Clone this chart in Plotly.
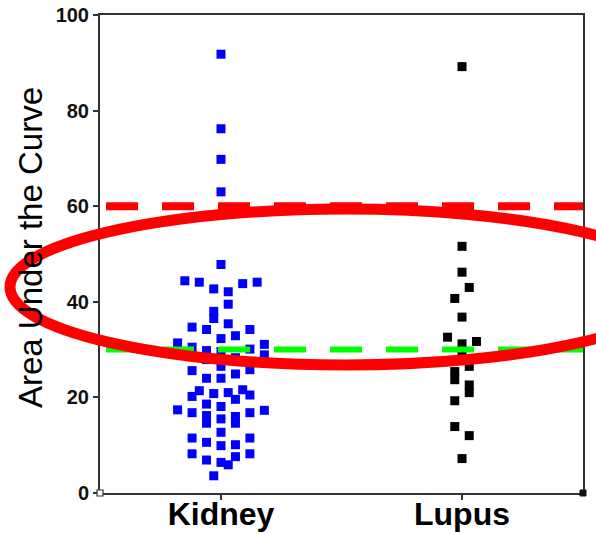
import plotly.graph_objects as go

# ---- data ----
categories = ["Kidney", "Lupus"]

kidney_values = [91.8, 76.2, 69.8, 63.0, 47.8,
                 44.4, 44.1, 42.7, 42.1, 43.8, 44.1,
                 39.5, 38.0, 36.5, 34.7, 34.2, 35.4, 34.2, 32.3, 32.9,
                 31.4, 30.5, 29.8, 29.6, 30.1, 31.1, 28.9, 28.3, 27.9,
                 26.5, 25.8, 25.6, 24.0, 24.0, 24.9,
                 21.4, 20.2, 20.8, 21.0, 21.6, 19.6, 20.5,
                 18.6, 18.1, 17.4, 16.8, 16.2, 14.6, 15.5, 16.0, 14.6, 16.8, 17.3,
                 12.7, 11.5, 10.6, 9.9, 10.1, 11.5,
                 8.2, 6.9, 6.4, 5.9, 7.6, 8.2, 3.6]
# column slot of each point within the Kidney strip (scatter-dot layout)
kidney_slots = [0, 0, 0, 0, 0,
                -5, -3, -1, 1, 3, 5,
                1, -1, -1, -4, -2, 1, 4, 0, 2,
                -6, -4, -2, 0, 4, 6, 6, 2, -2,
                0, 4, -4, -2, 0, 2,
                -3, -4, -1, 1, 3, 2, 4,
                -2, 0, -6, -4, -2, -2, 0, 2, 2, 4, 6,
                0, -4, -2, 0, 2, 4,
                -4, -2, 0, 1, 2, 4, -1]

lupus_values = [89.2, 51.6, 46.2, 43.0, 40.7, 36.8, 32.6, 31.7, 31.2, 29.8,
                26.5, 25.4, 23.7, 22.6, 21.0, 19.3, 13.9, 12.0, 7.2]
lupus_slots = [0, 0, 0, 1, -1, 0, -2, 2, 0, 0,
               1, -1, -1, 1, 1, -1, -1, 1, 0]

upper_threshold = 60
lower_threshold = 30

y_ticks = [0, 20, 40, 60, 80, 100]
y_title = "Area Under the Curve"

# ---- layout constants ----
SLOT = 0.03  # width of one dot column, in category units
W, H = 596, 534
ML, MR, MT, MB = 100, 13, 15, 41
PW = W - ML - MR
PH = H - MT - MB


def px_x(p):
    return (p - ML) / PW


def px_y(p):
    return (H - MB - p) / PH


fig = go.Figure()
fig.add_trace(go.Scatter(
    x=[0 + s * SLOT for s in kidney_slots], y=kidney_values,
    mode="markers", marker=dict(symbol="square", size=9, color="#0000FF"),
    showlegend=False, cliponaxis=False))
fig.add_trace(go.Scatter(
    x=[1 + s * SLOT for s in lupus_slots], y=lupus_values,
    mode="markers", marker=dict(symbol="square", size=9, color="#000000"),
    showlegend=False, cliponaxis=False))

axis_col = "#333333"
fig.update_xaxes(
    range=[-0.502, 1.502], tickvals=[0, 1], ticktext=categories,
    showline=True, linecolor=axis_col, linewidth=2, mirror=True,
    ticks="outside", ticklen=5, tickcolor=axis_col, tickwidth=2,
    ticklabelstandoff=-13,
    tickfont=dict(family="Liberation Sans, Arial", size=32, color="#000000", weight="bold"),
    showgrid=False, zeroline=False, automargin=False)
fig.update_yaxes(
    range=[0, 100], tickvals=y_ticks,
    showline=True, linecolor=axis_col, linewidth=2, mirror=True,
    ticks="outside", ticklen=5, tickcolor=axis_col, tickwidth=2,
    tickfont=dict(family="Liberation Sans, Arial", size=20, color="#111111", weight="bold"),
    showgrid=False, zeroline=False, automargin=False)

shapes = [
    dict(type="line", xref="paper", yref="y", x0=px_x(106), x1=1,
         y0=lower_threshold, y1=lower_threshold, layer="above",
         line=dict(color="#00FF00", width=6, dash="32px,24px")),
    dict(type="line", xref="paper", yref="y", x0=px_x(106), x1=1,
         y0=upper_threshold, y1=upper_threshold, layer="above",
         line=dict(color="#FF0000", width=8, dash="32px,24px")),
    dict(type="circle", xref="paper", yref="paper",
         x0=px_x(10), x1=px_x(680), y0=px_y(365), y1=px_y(209), layer="above",
         line=dict(color="#FF0000", width=11)),
    # small corner marks of the original axis frame
    dict(type="rect", xref="paper", yref="paper",
         x0=px_x(97), x1=px_x(103), y0=px_y(496), y1=px_y(490), layer="above",
         fillcolor="white", line=dict(color=axis_col, width=1.2)),
    dict(type="rect", xref="paper", yref="paper",
         x0=px_x(580), x1=px_x(586), y0=px_y(496), y1=px_y(490), layer="above",
         fillcolor="#111111", line=dict(color="#111111", width=1)),
]
fig.update_layout(shapes=shapes)

# axis title drawn below the ellipse layer is not possible for annotations,
# so it is placed as in the reference (the ellipse crosses it there too)
fig.add_annotation(text=y_title, xref="paper", yref="paper",
                   x=px_x(30), y=px_y(248), xanchor="center", yanchor="middle",
                   textangle=-90, showarrow=False,
                   font=dict(family="Liberation Sans, Arial", size=33, color="#000000"))

fig.update_layout(
    width=W, height=H, margin=dict(l=ML, r=MR, t=MT, b=MB),
    paper_bgcolor="white", plot_bgcolor="white")

fig.write_html("out.html", config={"displayModeBar": False},
               post_script="document.body.style.margin='0';document.body.style.overflow='hidden';")
